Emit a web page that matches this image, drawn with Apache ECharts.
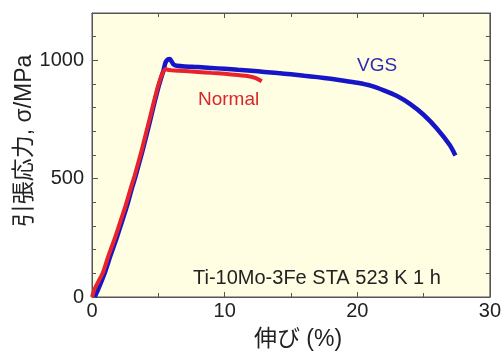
<!DOCTYPE html>
<html>
<head>
<meta charset="utf-8">
<script src="https://cdn.jsdelivr.net/npm/echarts@6/dist/echarts.min.js"></script>
<style>
html,body{margin:0;padding:0;background:#fff;}
#c{width:504px;height:353px;}
</style>
</head>
<body>
<div id="c"></div>
<script>
// Data: elongation (%) vs tensile stress (MPa)
var normalX = [0, 0.2, 0.8, 1.25, 1.71, 2.13, 2.54, 2.91, 3.2, 3.7, 4.2, 4.6, 5.0, 5.35, 5.55, 5.7, 6.0, 7, 8, 9, 10, 11, 11.8, 12.3, 12.8];
var normalY = [0, 35, 100, 176, 246, 317, 387, 458, 510, 610, 720, 810, 895, 950, 963, 960, 958, 955, 951, 947, 943, 938, 933, 926, 912];

var vgsX = [0.2, 0.45, 0.95, 1.4, 1.84, 2.25, 2.65, 3.0, 3.28, 3.77, 4.27, 4.66, 5.05, 5.4, 5.55, 5.75, 5.88, 6.0, 6.15, 6.4, 7, 8, 9, 10, 11, 12, 13, 14, 15, 16, 17, 18, 19, 20, 21, 22, 23, 24, 25, 26, 27, 27.4];
var vgsY = [0, 30, 100, 176, 246, 317, 387, 458, 510, 610, 720, 810, 895, 960, 992, 1005, 1006, 995, 982, 977, 974, 972, 968, 964, 960, 956, 951, 946, 941, 935, 929, 922, 914, 905, 893, 873, 849, 815, 770, 712, 640, 598];

var xTicks = [0, 10, 20, 30];
var yTicks = [0, 500, 1000];
var xTitle = '伸び (%)';
var yTitle = '引張応力, σ/MPa';
var noteText = 'Ti-10Mo-3Fe STA 523 K 1 h';
var labelNormal = 'Normal';
var labelVGS = 'VGS';

function pairs(xs, ys) { return xs.map(function (x, i) { return [x, ys[i]]; }); }

var chart = echarts.init(document.getElementById('c'), null, {renderer: 'canvas'});
var axisCol = '#555';
var txtCol = '#222';
var latin = 'Liberation Sans, Arial, sans-serif';

function xAx(pos, show) {
  return {
    type: 'value', position: pos, min: 0, max: 30, interval: 10,
    axisLine: {show: true, onZero: false, lineStyle: {color: axisCol, width: 1}},
    axisTick: {show: true, inside: true, length: 5, lineStyle: {color: axisCol}},
    minorTick: {show: true, splitNumber: 2, length: 4, lineStyle: {color: axisCol}},
    splitLine: {show: false},
    axisLabel: {show: show, margin: 4, fontSize: 20, color: txtCol, fontFamily: latin,
      formatter: function (v) { return xTicks.indexOf(v) >= 0 ? String(v) : ''; }}
  };
}
function yAx(pos, show) {
  return {
    type: 'value', position: pos, min: 0, max: 1200, interval: 500,
    axisLine: {show: true, onZero: false, lineStyle: {color: axisCol, width: 1}},
    axisTick: {show: true, inside: true, length: 6, lineStyle: {color: axisCol}},
    minorTick: {show: true, splitNumber: 5, length: 4, lineStyle: {color: axisCol}},
    splitLine: {show: false},
    axisLabel: {show: show, margin: 8, fontSize: 20, color: txtCol, fontFamily: latin,
      formatter: function (v) { return yTicks.indexOf(v) >= 0 ? String(v) : ''; }}
  };
}

chart.setOption({
  animation: false,
  backgroundColor: '#ffffff',
  grid: {left: 92, right: 14, top: 13, bottom: 56, show: true,
    backgroundColor: '#fffde2', borderColor: axisCol, borderWidth: 1},
  xAxis: [xAx('bottom', true), xAx('top', false)],
  yAxis: [yAx('left', true), yAx('right', false)],
  series: [
    {type: 'line', name: labelVGS, data: pairs(vgsX, vgsY), showSymbol: false,
      xAxisIndex: 0, yAxisIndex: 0, z: 2, smooth: 0.2,
      lineStyle: {color: '#1616c8', width: 4.5}},
    {type: 'line', name: labelNormal, data: pairs(normalX, normalY), showSymbol: false,
      xAxisIndex: 0, yAxisIndex: 0, z: 3, smooth: 0.15,
      lineStyle: {color: '#e8232b', width: 4}}
  ],
  graphic: [
    {type: 'text', left: 357, top: 56, style: {text: labelVGS, fontSize: 19, fill: '#2b2bb4', fontFamily: latin}},
    {type: 'text', left: 198, top: 90, style: {text: labelNormal, fontSize: 19, fill: '#d8262c', fontFamily: latin}},
    {type: 'text', left: 193, top: 268, style: {text: noteText, fontSize: 20, fill: txtCol, fontFamily: latin}},
    {type: 'text', x: 298, y: 340, style: {text: xTitle, fontSize: 23, fill: txtCol, align: 'center', verticalAlign: 'middle',
      fontFamily: 'Liberation Sans, Noto Sans CJK JP, sans-serif'}},
    {type: 'text', x: 25, y: 141, rotation: Math.PI / 2, style: {text: yTitle, fontSize: 23, fill: txtCol, align: 'center', verticalAlign: 'middle',
      fontFamily: 'Liberation Sans, Noto Sans CJK JP, sans-serif'}}
  ]
});
</script>
</body>
</html>
